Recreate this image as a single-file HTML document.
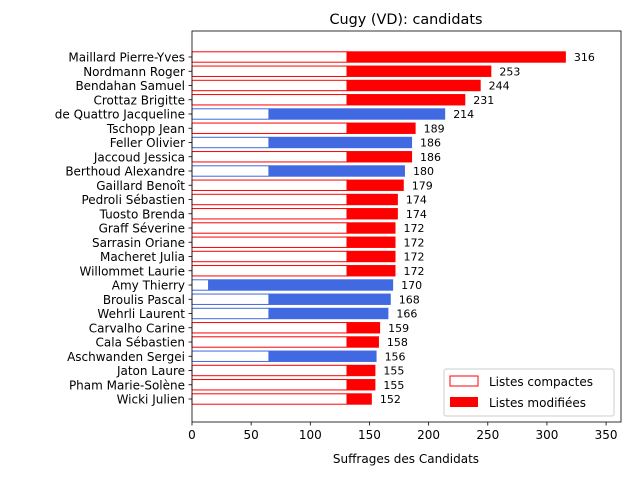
<!DOCTYPE html>
<html><head><meta charset="utf-8"><style>
body{margin:0;background:#fff;font-family:"DejaVu Sans","Liberation Sans",sans-serif}
svg text{font-family:"DejaVu Sans","Liberation Sans",sans-serif}
</style></head><body>
<svg id="chart" width="640" height="480" xmlns="http://www.w3.org/2000/svg">
<rect width="640" height="480" fill="#fff"/>
<text x="406" y="24" text-anchor="middle" font-size="14.4">Cugy (VD): candidats</text>
<g id="bars"></g>
<g id="axes"></g>
<text x="406" y="463" text-anchor="middle" font-size="12">Suffrages des Candidats</text>
<g>
<rect x="444" y="369" width="170" height="47" rx="2" fill="#fff" fill-opacity="0.8" stroke="#ccc"/>
<rect x="450" y="376" width="28" height="10" fill="#fff" stroke="red"/>
<text x="489" y="386" font-size="12">Listes compactes</text>
<rect x="450" y="397" width="28" height="10" fill="red"/>
<text x="489" y="407" font-size="12">Listes modifiées</text>
</g>
</svg>
<script>
const candidates=["Maillard Pierre-Yves","Nordmann Roger","Bendahan Samuel","Crottaz Brigitte","de Quattro Jacqueline","Tschopp Jean","Feller Olivier","Jaccoud Jessica","Berthoud Alexandre","Gaillard Benoît","Pedroli Sébastien","Tuosto Brenda","Graff Séverine","Sarrasin Oriane","Macheret Julia","Willommet Laurie","Amy Thierry","Broulis Pascal","Wehrli Laurent","Carvalho Carine","Cala Sébastien","Aschwanden Sergei","Jaton Laure","Pham Marie-Solène","Wicki Julien"];
const totals=[316,253,244,231,214,189,186,186,180,179,174,174,172,172,172,172,170,168,166,159,158,156,155,155,152];
const compact=[131,131,131,131,65,131,65,131,65,131,131,131,131,131,131,131,14,65,65,131,131,65,131,131,131];
const party=["r","r","r","r","b","r","b","r","b","r","r","r","r","r","r","r","b","b","b","r","r","b","r","r","r"];
const xTicks=[0,50,100,150,200,250,300,350];
const X0=192,X1=621,Y0=31,Y1=422,XMAX=362.6;
const x=v=>X0+v/XMAX*(X1-X0);
const step=(399-57)/24;
const y=i=>57+i*step;
const NS="http://www.w3.org/2000/svg";
function mk(t,a,p){const e=document.createElementNS(NS,t);for(const k in a)e.setAttribute(k,a[k]);p.appendChild(e);return e;}
const bars=document.getElementById('bars'),axes=document.getElementById('axes');
const h=step*0.8;
candidates.forEach((c,i)=>{
 const col=party[i]=="r"?"#ff0000":"#4169e1";
 const m=mk('rect',{x:x(compact[i]),y:y(i)-h/2,width:x(totals[i])-x(compact[i]),height:h,fill:col},bars);
 
 
 const r=mk('rect',{x:x(0),y:y(i)-h/2+0.5,width:x(compact[i])-x(0),height:h-1,fill:"#fff",stroke:col,"stroke-width":1},bars);
 
 
 const v=mk('text',{x:x(totals[i])+8,y:y(i)+4,"font-size":11},bars);v.textContent=totals[i];
 
 
 const l=mk('text',{x:X0-7,y:y(i)+4.5,"font-size":12,"text-anchor":"end"},axes);l.textContent=c;
 
 
 mk('line',{x1:X0-3.5,x2:X0,y1:y(i),y2:y(i),stroke:"#000","stroke-width":0.8},axes);
});
xTicks.forEach(t=>{
 mk('line',{x1:x(t),x2:x(t),y1:Y1,y2:Y1+3.5,stroke:"#000","stroke-width":0.8},axes);
 const l=mk('text',{x:x(t),y:Y1+17,"font-size":12,"text-anchor":"middle"},axes);l.textContent=t;
 
 
});
const f=mk('rect',{x:X0,y:Y0,width:X1-X0,height:Y1-Y0,fill:"none",stroke:"#000","stroke-width":0.8},axes);


</script>
</body></html>
